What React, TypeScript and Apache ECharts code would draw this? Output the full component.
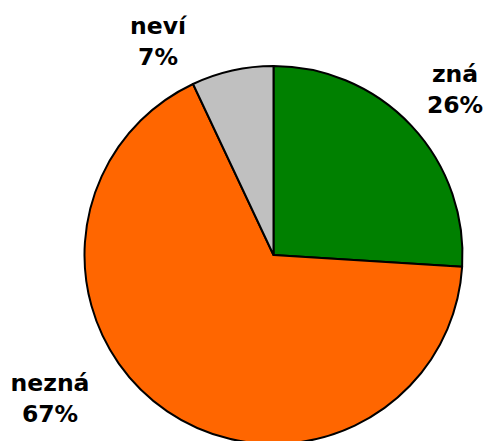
import React, { useEffect, useRef } from "react";
import * as echarts from "echarts";

const categories = ["zná", "nezná", "neví"];
const values = [26, 67, 7];
const colors = ["#008000", "#FF6600", "#C0C0C0"];

// label anchor positions (layout only)
const labelPos = [
  [455, 89],
  [50, 398],
  [158, 41],
];

export default function App() {
  const ref = useRef<HTMLDivElement>(null);
  useEffect(() => {
    if (!ref.current) return;
    const chart = echarts.init(ref.current, undefined, { renderer: "svg" });
    chart.setOption({
      animation: false,
      backgroundColor: "#ffffff",
      series: [
        {
          type: "pie",
          center: [273.5, 255],
          radius: 189,
          startAngle: 90,
          clockwise: true,
          data: categories.map((c, i) => ({
            name: c,
            value: values[i],
            itemStyle: { color: colors[i] },
          })),
          itemStyle: { borderColor: "#000000", borderWidth: 2 },
          label: {
            show: true,
            position: "inside",
            overflow: "none",
            formatter: (p: any) => `${p.name}\n${p.value}%`,
            fontFamily: "DejaVu Sans",
            fontWeight: "bold",
            fontSize: 23.5,
            lineHeight: 31,
            color: "#000000",
            textBorderWidth: 0,
            align: "center",
          },
          labelLine: { show: false },
          labelLayout: (params: any) => {
            const pos = labelPos[params.dataIndex];
            return {
              x: pos[0],
              y: pos[1],
              align: "center",
              verticalAlign: "middle",
            };
          },
          emphasis: { disabled: true },
        },
      ],
    });
    return () => chart.dispose();
  }, []);
  return (
    <div
      ref={ref}
      style={{ position: "fixed", left: 0, top: 0, width: 487, height: 441 }}
    />
  );
}
